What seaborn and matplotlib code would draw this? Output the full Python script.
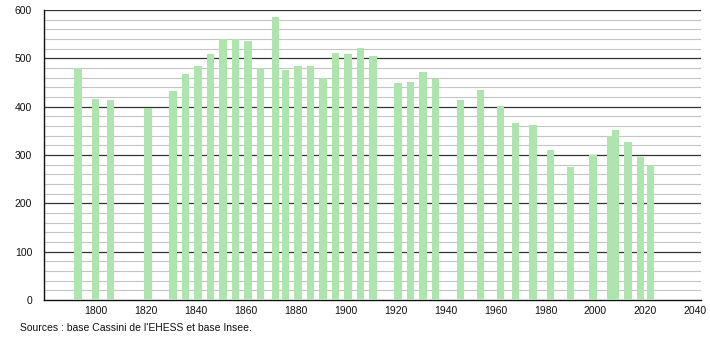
import matplotlib
matplotlib.use("Agg")
import matplotlib.pyplot as plt
import seaborn as sns
import pandas as pd
from matplotlib.ticker import MultipleLocator

years = [1793, 1800, 1806, 1821, 1831, 1836, 1841, 1846, 1851, 1856, 1861, 1866,
         1872, 1876, 1881, 1886, 1891, 1896, 1901, 1906, 1911, 1921, 1926, 1931,
         1936, 1946, 1954, 1962, 1968, 1975, 1982, 1990, 1999, 2006, 2008, 2013,
         2018, 2022]
population = [481, 416, 414, 398, 432, 468, 484, 509, 541, 541, 536, 481,
              585, 476, 484, 484, 459, 511, 509, 521, 505, 449, 451, 472,
              458, 414, 434, 401, 366, 362, 310, 275, 301, 339, 352, 327,
              295, 279]
x_ticks = [1800, 1820, 1840, 1860, 1880, 1900, 1920, 1940, 1960, 1980, 2000, 2020, 2040]
y_ticks = [0, 100, 200, 300, 400, 500, 600]
source = "Sources : base Cassini de l'EHESS et base Insee."

df = pd.DataFrame({"year": years, "pop": population})

sns.set_style("white")
plt.rcParams["font.family"] = ["Liberation Sans Narrow", "Liberation Sans", "DejaVu Sans"]

fig = plt.figure(figsize=(7.1, 3.4), dpi=100)
ax = fig.add_axes([44 / 710, 40 / 340, (701 - 44) / 710, (300 - 10) / 340])

sns.barplot(data=df, x="year", y="pop", native_scale=True, width=1.55,
            color="#aee4ae", saturation=1, edgecolor="none", linewidth=0, ax=ax,
            zorder=3)

ax.set_xlim(1779.4, 2042.2)
ax.set_ylim(0, 600)
ax.set_xticks(x_ticks)
ax.set_yticks(y_ticks)
ax.yaxis.set_minor_locator(MultipleLocator(20))
ax.grid(False)
ax.set_axisbelow(True)
for v in range(20, 600, 20):
    if v % 100:
        ax.axhline(v, color="#c4c4c4", lw=0.8, zorder=1)
for v in range(100, 601, 100):
    ax.axhline(v, color="#333333", lw=0.9, zorder=2)

ax.set_xlabel("")
ax.set_ylabel("")
for s in ["top", "right"]:
    ax.spines[s].set_visible(False)
for s in ["left", "bottom"]:
    ax.spines[s].set_color("#111111")
    ax.spines[s].set_linewidth(1.0)

ax.tick_params(axis="x", length=0, pad=4, labelsize=7.5, colors="#111111")
ax.tick_params(axis="y", which="major", length=3.5, width=0.8, pad=5, labelsize=7.5, colors="#111111")
ax.tick_params(axis="y", which="minor", length=1.5, width=0.8, colors="#111111")

fig.text(20 / 710, 1 - 328 / 340, source, fontsize=7.5, color="#111111", va="center", ha="left")

fig.savefig("out.png", dpi=100, facecolor="white")
